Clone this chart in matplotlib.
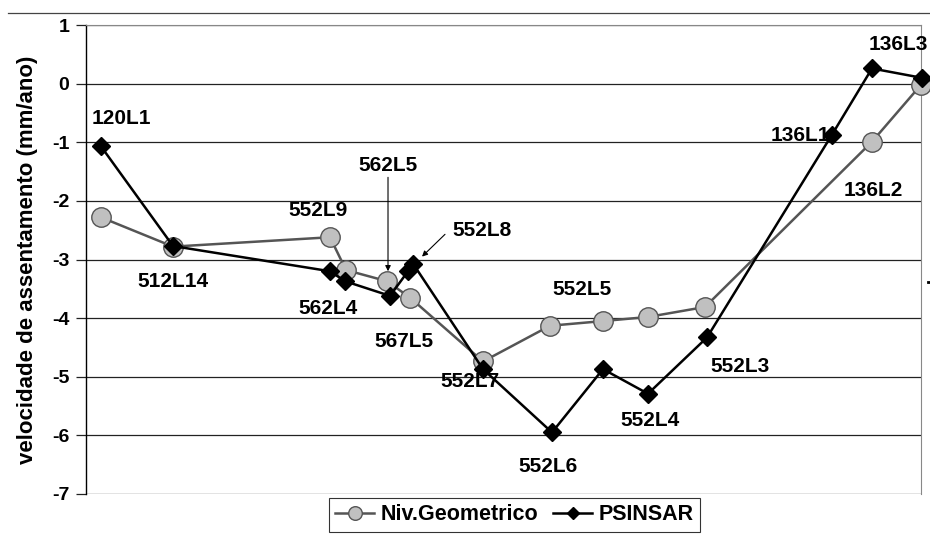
import matplotlib.pyplot as plt
from matplotlib.lines import Line2D

plt.rcParams['font.family'] = ['Liberation Sans', 'DejaVu Sans']
plt.rcParams['font.weight'] = 'bold'
plt.rcParams['axes.unicode_minus'] = False

# posicoes ao longo do perfil (unidades arbitrarias)
x_niv = [15, 87, 244, 260, 301, 324, 397, 464, 517, 562, 619, 786, 835]
v_niv = [-2.28, -2.78, -2.62, -3.18, -3.37, -3.65, -4.74, -4.13, -4.05, -3.98, -3.81, -0.99, -0.02]

x_psi = [15, 87, 244, 259, 304, 322, 327, 397, 466, 517, 562, 621, 746, 786, 836]
v_psi = [-1.07, -2.77, -3.2, -3.37, -3.62, -3.2, -3.07, -4.87, -5.95, -4.87, -5.29, -4.33, -0.87, 0.26, 0.1]

# rotulos : texto, x, y
rotulos = [
    ("120L1", 35, -0.6),
    ("512L14", 87, -3.37),
    ("552L9", 232, -2.17),
    ("562L4", 242, -3.83),
    ("567L5", 318, -4.4),
    ("552L7", 384, -5.08),
    ("552L6", 462, -6.53),
    ("552L5", 496, -3.51),
    ("552L4", 564, -5.75),
    ("552L3", 654, -4.83),
    ("136L2", 787, -1.83),
]

fig = plt.figure(figsize=(9.3, 5.34), dpi=100)
ax = fig.add_axes([0.0925, 0.075, 0.8978, 0.878])

for yy in range(-7, 2):
    ax.axhline(yy, color='#222222', lw=0.9, zorder=1)

ax.plot(x_niv, v_niv, '-o', color='#555555', lw=1.8, ms=14, mfc='#c0c0c0', mec='#555555',
        mew=1.0, label='Niv.Geometrico', zorder=3, clip_on=False)
ax.plot(x_psi, v_psi, '-D', color='black', lw=1.8, ms=9, mfc='black', mec='black',
        label='PSINSAR', zorder=4, clip_on=False)

fs = 15
for t, xx, yy in rotulos:
    ax.text(xx, yy, t, ha='center', va='center', fontsize=fs, fontweight='bold')
ax.text(744, -0.88, "136L1", ha='right', va='center', fontsize=fs, fontweight='bold')
ax.text(842, 0.67, "136L3", ha='right', va='center', fontsize=fs, fontweight='bold')

ax.annotate("562L5", xy=(302, -3.2), xytext=(302, -1.55), ha='center', va='bottom',
            fontsize=fs, fontweight='bold',
            arrowprops=dict(arrowstyle='-|>', color='black', lw=0.8, mutation_scale=8,
                            shrinkA=0, shrinkB=0))
ax.annotate("", xy=(336, -2.95), xytext=(359, -2.57),
            arrowprops=dict(arrowstyle='-|>', color='black', lw=0.8, mutation_scale=8,
                            shrinkA=0, shrinkB=0))
ax.text(366, -2.5, "552L8", ha='left', va='center', fontsize=fs, fontweight='bold')

ax.set_xlim(0, 835)
ax.set_ylim(-7, 1)
ax.set_yticks(range(-7, 2))
ax.set_xticks([])
ax.tick_params(axis='y', length=7, width=0.9, color='#222222', labelsize=14, pad=5)
for lab in ax.get_yticklabels():
    lab.set_fontweight('bold')
ax.set_ylabel('velocidade de assentamento (mm/ano)', fontsize=16, fontweight='bold', labelpad=10)

ax.spines['left'].set_color('black')
ax.spines['left'].set_linewidth(1.0)
ax.spines['bottom'].set_visible(False)
ax.spines['top'].set_color('#888888')
ax.spines['right'].set_color('#888888')

leg = ax.legend(loc='upper center', bbox_to_anchor=(0.513, -0.008), ncol=2, frameon=True,
                fancybox=False, edgecolor='black', fontsize=15.5, handlelength=1.8,
                handletextpad=0.3, columnspacing=0.7, borderpad=0.3, borderaxespad=0,
                markerscale=0.7)
leg.get_frame().set_linewidth(0.8)

fig.add_artist(Line2D([0.009, 1.0], [0.976, 0.976], transform=fig.transFigure, color='#444444', lw=0.9))
fig.add_artist(Line2D([0.9975, 0.9995], [0.472, 0.472], transform=fig.transFigure, color='black', lw=2))

plt.savefig('out.png', dpi=100)
